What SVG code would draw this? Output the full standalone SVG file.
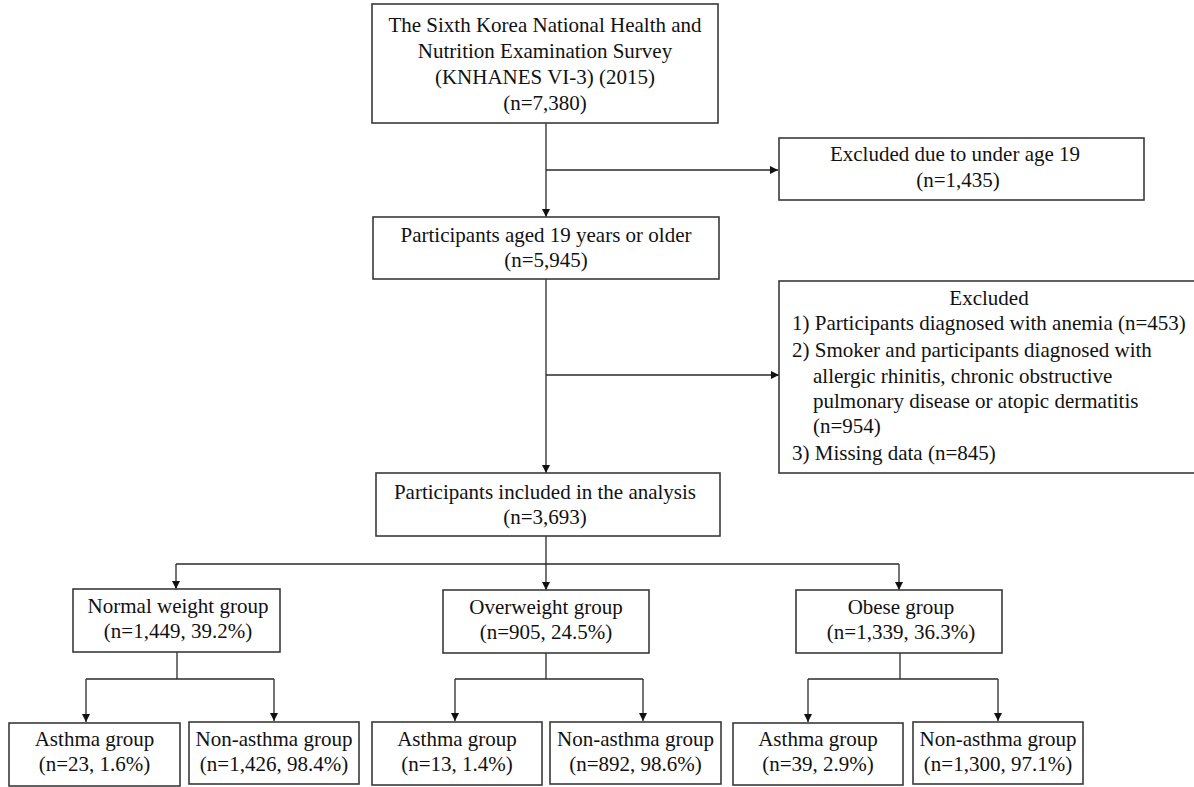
<svg xmlns="http://www.w3.org/2000/svg" width="1194" height="787" viewBox="0 0 1194 787">
<style>
.box{fill:#fff;stroke:#3a3a3a;stroke-width:1.6}
.t{font-family:"Liberation Serif","Times New Roman",serif;font-size:21px;fill:#111;text-anchor:middle}
.l{text-anchor:start}
.c{fill:none;stroke:#2a2a2a;stroke-width:1.3}
</style>
<defs>
<marker id="ah" markerUnits="userSpaceOnUse" markerWidth="10" markerHeight="10" refX="8" refY="4" orient="auto">
<path d="M0,0 L8,4 L0,8 z" fill="#111"/>
</marker>
</defs>
<rect width="1194" height="787" fill="#fff"/>
<g id="connectors">
<path class="c" d="M546,123 V217" marker-end="url(#ah)"/>
<path class="c" d="M546,170 H778" marker-end="url(#ah)"/>
<path class="c" d="M546,279 V473" marker-end="url(#ah)"/>
<path class="c" d="M546,375 H779" marker-end="url(#ah)"/>
<path class="c" d="M546,536 V564"/>
<path class="c" d="M176,564 H899"/>
<path class="c" d="M176,564 V589" marker-end="url(#ah)"/>
<path class="c" d="M546,564 V590" marker-end="url(#ah)"/>
<path class="c" d="M899,564 V590" marker-end="url(#ah)"/>
<path class="c" d="M177,652 V679"/>
<path class="c" d="M86,679 H274"/>
<path class="c" d="M86,679 V722" marker-end="url(#ah)"/>
<path class="c" d="M274,679 V721" marker-end="url(#ah)"/>
<path class="c" d="M546,653 V679"/>
<path class="c" d="M455,679 H643"/>
<path class="c" d="M455,679 V721" marker-end="url(#ah)"/>
<path class="c" d="M643,679 V721" marker-end="url(#ah)"/>
<path class="c" d="M900,653 V679"/>
<path class="c" d="M808,679 H998"/>
<path class="c" d="M808,679 V722" marker-end="url(#ah)"/>
<path class="c" d="M998,679 V721" marker-end="url(#ah)"/>
</g>
<g id="survey">
<rect class="box" x="372" y="4" width="346" height="119"/>
<text class="t" x="545" y="32">The Sixth Korea National Health and</text>
<text class="t" x="545" y="58">Nutrition Examination Survey</text>
<text class="t" x="545" y="84">(KNHANES VI-3) (2015)</text>
<text class="t" x="545" y="110">(n=7,380)</text>
</g>
<g id="excluded-age">
<rect class="box" x="779" y="138" width="365" height="62"/>
<text class="t" x="955" y="161">Excluded due to under age 19</text>
<text class="t" x="958" y="187">(n=1,435)</text>
</g>
<g id="aged19">
<rect class="box" x="373" y="217" width="346" height="62"/>
<text class="t" x="546" y="242">Participants aged 19 years or older</text>
<text class="t" x="546" y="267">(n=5,945)</text>
</g>
<g id="excluded">
<rect class="box" x="779" y="281" width="430" height="192"/>
<text class="t" x="989" y="305">Excluded</text>
<text class="t l" x="792" y="330">1) Participants diagnosed with anemia (n=453)</text>
<text class="t l" x="792" y="357">2) Smoker and participants diagnosed with</text>
<text class="t l" x="813" y="383">allergic rhinitis, chronic obstructive</text>
<text class="t l" x="813" y="408">pulmonary disease or atopic dermatitis</text>
<text class="t l" x="813" y="433">(n=954)</text>
<text class="t l" x="792" y="460">3) Missing data (n=845)</text>
</g>
<g id="included">
<rect class="box" x="376" y="473" width="344" height="63"/>
<text class="t" x="545" y="499">Participants included in the analysis</text>
<text class="t" x="545" y="524">(n=3,693)</text>
</g>
<g id="normal">
<rect class="box" x="73" y="589" width="207" height="63"/>
<text class="t" x="178" y="613">Normal weight group</text>
<text class="t" x="178" y="638">(n=1,449, 39.2%)</text>
</g>
<g id="overweight">
<rect class="box" x="443" y="590" width="206" height="63"/>
<text class="t" x="546" y="614">Overweight group</text>
<text class="t" x="546" y="639">(n=905, 24.5%)</text>
</g>
<g id="obese">
<rect class="box" x="796" y="590" width="206" height="63"/>
<text class="t" x="901" y="614">Obese group</text>
<text class="t" x="901" y="639">(n=1,339, 36.3%)</text>
</g>
<g id="normal-asthma">
<rect class="box" x="9" y="723" width="171" height="63"/>
<text class="t" x="94.5" y="746">Asthma group</text>
<text class="t" x="94.5" y="771">(n=23, 1.6%)</text>
</g>
<g id="normal-nonasthma">
<rect class="box" x="189" y="722" width="170" height="62"/>
<text class="t" x="274" y="746">Non-asthma group</text>
<text class="t" x="274" y="771">(n=1,426, 98.4%)</text>
</g>
<g id="over-asthma">
<rect class="box" x="372" y="722" width="170" height="63"/>
<text class="t" x="457" y="746">Asthma group</text>
<text class="t" x="457" y="771">(n=13, 1.4%)</text>
</g>
<g id="over-nonasthma">
<rect class="box" x="550" y="722" width="171" height="62"/>
<text class="t" x="635.5" y="746">Non-asthma group</text>
<text class="t" x="635.5" y="771">(n=892, 98.6%)</text>
</g>
<g id="obese-asthma">
<rect class="box" x="733" y="723" width="170" height="62"/>
<text class="t" x="818" y="746">Asthma group</text>
<text class="t" x="818" y="771">(n=39, 2.9%)</text>
</g>
<g id="obese-nonasthma">
<rect class="box" x="913" y="722" width="170" height="62"/>
<text class="t" x="998" y="746">Non-asthma group</text>
<text class="t" x="998" y="771">(n=1,300, 97.1%)</text>
</g>
</svg>
